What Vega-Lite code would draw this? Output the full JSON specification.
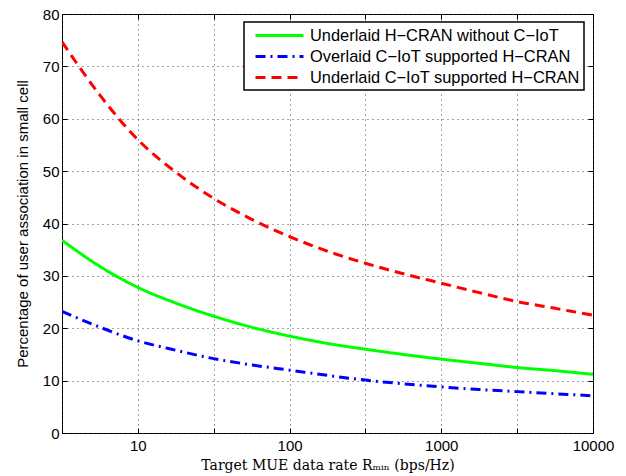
{
  "$schema": "https://vega.github.io/schema/vega-lite/v6.json",
  "width": 531,
  "height": 419,
  "autosize": {"type": "none"},
  "padding": {"left": 62, "top": 14, "right": 33, "bottom": 43},
  "background": "white",
  "config": {
    "view": {"stroke": "black", "strokeWidth": 1},
    "axis": {"labelFont": "Liberation Sans", "labelFontSize": 15, "labelColor": "black", "domain": false, "tickColor": "black", "tickSize": -5, "titleColor": "black"},
    "legend": {"title": null, "orient": "none", "legendX": 182, "legendY": 8,
      "fillColor": "white", "strokeColor": "black", "strokeWidth": 1.5, "padding": 4,
      "symbolType": "M-3,0H3", "symbolSize": 256, "symbolStrokeWidth": 3, "symbolOffset": 22,
      "labelFont": "Liberation Sans", "labelFontSize": 16.4, "labelColor": "black", "labelOffset": 21, "labelLimit": 0, "rowPadding": 3,
      "labelExpr": "datum.label + '\u00a0'"}
  },
  "data": {"values": [
    {"x": 3.1623, "y": 36.8, "s": "Underlaid H−CRAN without C−IoT"},
    {"x": 5.6234, "y": 31.8, "s": "Underlaid H−CRAN without C−IoT"},
    {"x": 10, "y": 27.8, "s": "Underlaid H−CRAN without C−IoT"},
    {"x": 17.783, "y": 24.8, "s": "Underlaid H−CRAN without C−IoT"},
    {"x": 31.623, "y": 22.3, "s": "Underlaid H−CRAN without C−IoT"},
    {"x": 56.234, "y": 20.2, "s": "Underlaid H−CRAN without C−IoT"},
    {"x": 100, "y": 18.5, "s": "Underlaid H−CRAN without C−IoT"},
    {"x": 177.83, "y": 17.1, "s": "Underlaid H−CRAN without C−IoT"},
    {"x": 316.23, "y": 16.0, "s": "Underlaid H−CRAN without C−IoT"},
    {"x": 562.34, "y": 15.0, "s": "Underlaid H−CRAN without C−IoT"},
    {"x": 1000, "y": 14.1, "s": "Underlaid H−CRAN without C−IoT"},
    {"x": 1778.3, "y": 13.3, "s": "Underlaid H−CRAN without C−IoT"},
    {"x": 3162.3, "y": 12.5, "s": "Underlaid H−CRAN without C−IoT"},
    {"x": 5623.4, "y": 11.9, "s": "Underlaid H−CRAN without C−IoT"},
    {"x": 10000, "y": 11.2, "s": "Underlaid H−CRAN without C−IoT"},
    {"x": 3.1623, "y": 23.2, "s": "Overlaid C−IoT supported H−CRAN"},
    {"x": 5.6234, "y": 20.2, "s": "Overlaid C−IoT supported H−CRAN"},
    {"x": 10, "y": 17.6, "s": "Overlaid C−IoT supported H−CRAN"},
    {"x": 17.783, "y": 15.8, "s": "Overlaid C−IoT supported H−CRAN"},
    {"x": 31.623, "y": 14.2, "s": "Overlaid C−IoT supported H−CRAN"},
    {"x": 56.234, "y": 13.0, "s": "Overlaid C−IoT supported H−CRAN"},
    {"x": 100, "y": 12.0, "s": "Overlaid C−IoT supported H−CRAN"},
    {"x": 177.83, "y": 11.0, "s": "Overlaid C−IoT supported H−CRAN"},
    {"x": 316.23, "y": 10.1, "s": "Overlaid C−IoT supported H−CRAN"},
    {"x": 562.34, "y": 9.4, "s": "Overlaid C−IoT supported H−CRAN"},
    {"x": 1000, "y": 8.8, "s": "Overlaid C−IoT supported H−CRAN"},
    {"x": 1778.3, "y": 8.3, "s": "Overlaid C−IoT supported H−CRAN"},
    {"x": 3162.3, "y": 7.9, "s": "Overlaid C−IoT supported H−CRAN"},
    {"x": 5623.4, "y": 7.5, "s": "Overlaid C−IoT supported H−CRAN"},
    {"x": 10000, "y": 7.1, "s": "Overlaid C−IoT supported H−CRAN"},
    {"x": 3.1623, "y": 74.7, "s": "Underlaid C−IoT supported H−CRAN"},
    {"x": 5.6234, "y": 64.5, "s": "Underlaid C−IoT supported H−CRAN"},
    {"x": 10, "y": 56.0, "s": "Underlaid C−IoT supported H−CRAN"},
    {"x": 17.783, "y": 49.8, "s": "Underlaid C−IoT supported H−CRAN"},
    {"x": 31.623, "y": 44.8, "s": "Underlaid C−IoT supported H−CRAN"},
    {"x": 56.234, "y": 40.8, "s": "Underlaid C−IoT supported H−CRAN"},
    {"x": 100, "y": 37.5, "s": "Underlaid C−IoT supported H−CRAN"},
    {"x": 177.83, "y": 34.7, "s": "Underlaid C−IoT supported H−CRAN"},
    {"x": 316.23, "y": 32.4, "s": "Underlaid C−IoT supported H−CRAN"},
    {"x": 562.34, "y": 30.4, "s": "Underlaid C−IoT supported H−CRAN"},
    {"x": 1000, "y": 28.6, "s": "Underlaid C−IoT supported H−CRAN"},
    {"x": 1778.3, "y": 26.8, "s": "Underlaid C−IoT supported H−CRAN"},
    {"x": 3162.3, "y": 25.1, "s": "Underlaid C−IoT supported H−CRAN"},
    {"x": 5623.4, "y": 23.8, "s": "Underlaid C−IoT supported H−CRAN"},
    {"x": 10000, "y": 22.5, "s": "Underlaid C−IoT supported H−CRAN"}
  ]},
  "resolve": {"axis": {"x": "independent", "y": "independent"}},
  "layer": [
    {
      "mark": {"type": "line", "strokeWidth": 3, "interpolate": "monotone", "clip": true},
      "encoding": {
        "x": {"field": "x", "type": "quantitative",
          "scale": {"type": "log", "domain": [3.1623, 10000], "nice": false},
          "axis": {"orient": "bottom", "values": [3.1623, 10, 31.623, 100, 316.23, 1000, 3162.3, 10000],
            "labelExpr": "abs(log(datum.value)/LN10 - round(log(datum.value)/LN10)) < 0.01 ? datum.label : ''",
            "format": "d", "labelPadding": 10, "labelFlush": false,
            "grid": true, "gridDash": [1, 4], "gridColor": "#333", "gridOpacity": 0.9,
            "title": "Target MUE data rate Rₘᵢₙ (bps/Hz)", "titleFont": "DejaVu Serif", "titleFontSize": 14, "titleFontWeight": "normal", "titlePadding": 5}},
        "y": {"field": "y", "type": "quantitative",
          "scale": {"domain": [0, 80], "nice": false},
          "axis": {"orient": "left", "values": [0, 10, 20, 30, 40, 50, 60, 70, 80], "labelPadding": 8,
            "grid": true, "gridDash": [1, 4], "gridColor": "#333", "gridOpacity": 0.9,
            "title": "Percentage of user association in small cell", "titleFont": "Liberation Sans", "titleFontSize": 15, "titleFontWeight": "normal", "titlePadding": 12}},
        "color": {"field": "s", "type": "nominal",
          "scale": {"domain": ["Underlaid H−CRAN without C−IoT", "Overlaid C−IoT supported H−CRAN", "Underlaid C−IoT supported H−CRAN"], "range": ["#00ff00", "#0000ff", "#ff0000"]}},
        "strokeDash": {"field": "s", "type": "nominal",
          "scale": {"domain": ["Underlaid H−CRAN without C−IoT", "Overlaid C−IoT supported H−CRAN", "Underlaid C−IoT supported H−CRAN"], "range": [[1, 0], [10, 5, 2, 5], [10, 6]]}}
      }
    },
    {
      "mark": {"type": "line", "opacity": 0},
      "encoding": {
        "x": {"field": "x", "type": "quantitative",
          "scale": {"type": "log", "domain": [3.1623, 10000], "nice": false},
          "axis": {"orient": "top", "values": [3.1623, 10, 31.623, 100, 316.23, 1000, 3162.3, 10000], "labels": false, "grid": false, "title": null}},
        "y": {"field": "y", "type": "quantitative",
          "scale": {"domain": [0, 80], "nice": false},
          "axis": {"orient": "right", "values": [0, 10, 20, 30, 40, 50, 60, 70, 80], "labels": false, "grid": false, "title": null}}
      }
    }
  ]
}
